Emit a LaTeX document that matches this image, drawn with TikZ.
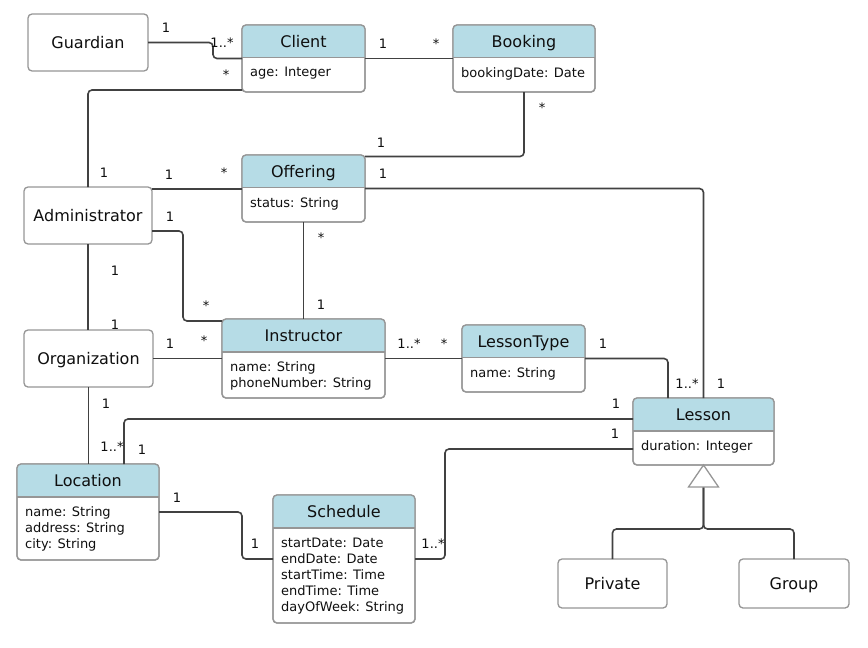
\documentclass[tikz,border=0pt]{standalone}
\usepackage{fontspec}
\setmainfont{DejaVu Sans}
\usetikzlibrary{calc}
\definecolor{hdr}{RGB}{182,220,230}
\definecolor{bord}{RGB}{150,150,150}
\definecolor{lnc}{RGB}{65,65,65}
\definecolor{txt}{RGB}{15,15,15}
\newcommand{\umlclass}[8]{%
  \node[classbox, minimum width={(#4-#2)*1pt}, minimum height={(#5-#3)*1pt}] (#1) at ({(#2+#4)/2},{(#3+#5)/2}) {};
  \begin{scope}
    \clip[rounded corners=4pt] (#2,#3) rectangle (#4,#5);
    \fill[hdr] (#2,#3) rectangle (#4,#6);
  \end{scope}
  \draw[draw=bord, line width=1.3pt] (#2,#6) -- (#4,#6);
  \draw[draw=bord, line width=1.3pt, rounded corners=4pt] (#2,#3) rectangle (#4,#5);
  \node[ctitle] (#1-t) at ({(#2+#4)/2},{(#3+#6)/2+5.8}) {#7};
  \node[cattr] (#1-a) at (#2+8,#6+9.5) {#8};
}
\begin{document}
\begin{tikzpicture}[x=1pt,y=-1pt,
  classbox/.style={draw=bord, line width=1.3pt, fill=white, rounded corners=4pt, inner sep=0pt, outer sep=0pt},
  plainbox/.style={classbox, font=\fontsize{16}{19}\selectfont, text=txt, text height=11.7pt, text depth=0pt},
  ctitle/.style={font=\fontsize{16}{19}\selectfont, text=txt, anchor=base, inner sep=0pt},
  cattr/.style={font=\fontsize{13}{16.1}\selectfont, text=txt, anchor=north west, align=left, inner sep=0pt},
  mult/.style={font=\fontsize{13}{16}\selectfont, text=txt, anchor=base, inner sep=0pt},
  conn/.style={draw=lnc, line width=1.6pt, rounded corners=4pt},
]
\useasboundingbox (0,0) rectangle (868,648);

% plain boxes
\node[plainbox, minimum width=120pt, minimum height=57pt] (guardian) at (88,42.5) {Guardian};
\node[plainbox, minimum width=128pt, minimum height=57pt] (admin) at (88,215.5) {Administrator};
\node[plainbox, minimum width=129pt, minimum height=57pt] (org) at (88.5,358.5) {Organization};
\node[plainbox, minimum width=109pt, minimum height=49pt] (private) at (612.5,583.5) {Private};
\node[plainbox, minimum width=110pt, minimum height=49pt] (group) at (794,583.5) {Group};

% classes
\umlclass{client}{242}{25}{365}{92}{57.5}{Client}{age: Integer}
\umlclass{booking}{453}{25}{595}{92}{57.5}{Booking}{bookingDate: Date}
\umlclass{offering}{242}{155}{365}{222}{187.5}{Offering}{status: String}
\umlclass{instructor}{222}{319}{385}{398}{352}{Instructor}{name: String\\phoneNumber: String}
\umlclass{lessontype}{462}{325}{585}{392}{357.5}{LessonType}{name: String}
\umlclass{lesson}{633}{398}{774}{465}{431}{Lesson}{duration: Integer}
\umlclass{location}{17}{464}{159}{560}{497}{Location}{name: String\\address: String\\city: String}
\umlclass{schedule}{273}{495}{415}{623}{528}{Schedule}{startDate: Date\\endDate: Date\\startTime: Time\\endTime: Time\\dayOfWeek: String}

% helper coordinates
\coordinate (adminT) at ([yshift=-2pt]admin.north east);
\coordinate (adminR) at ([yshift=13pt]admin.south east);
\coordinate (instrTL) at ([yshift=-2pt]instructor.north west);
\coordinate (gbase) at ([yshift=-22pt]lesson.south);

% connectors
\draw[conn] (guardian.east) -- (213,42.5) -- (213,58.5) -- (client.west);
\draw[conn] ([yshift=2pt]client.south west) -| (admin.north);
\draw[conn] (client.east) -- (booking.west);
\draw[conn] (booking.south) |- ([yshift=-1.5pt]offering.north east);
\draw[conn] (adminT) -- (adminT -| offering.west);
\draw[conn] (offering.east) -| (lesson.north);
\draw[conn] (adminR) -- (183,231) |- (instrTL);
\draw[conn] (offering.south) -- (instructor.north);
\draw[conn] (admin.south) -- (admin.south |- org.north);
\draw[conn] (org.east) -- (instructor.west);
\draw[conn] (instructor.east) -- (lessontype.west);
\draw[conn] (lessontype.east) -| ([xshift=-35.5pt]lesson.north);
\draw[conn] (org.south) -- (org.south |- location.north);
\draw[conn] ([xshift=36pt]location.north) |- ([yshift=-21pt]lesson.north west);
\draw[conn] (location.east) -- (242,512) |- (schedule.west);
\draw[conn] (schedule.east) -- (445,559) |- ([yshift=-51pt]lesson.north west);
\draw[conn] (gbase) -- ++(0,42) -| (private.north);
\draw[conn] (gbase) -- ++(0,42) -| (group.north);
\draw[draw=bord, line width=1.3pt, fill=white] (lesson.south) -- ++(-15,22) -- ++(30,0) -- cycle;

% multiplicities
\node[mult] (m1) at (166,32) {1};
\node[mult] (m2) at (222,47) {1..*};
\node[mult] (m3) at (226,79.5) {*};
\node[mult] (m4) at (104,177) {1};
\node[mult] (m5) at (383,48) {1};
\node[mult] (m6) at (436,48.5) {*};
\node[mult] (m7) at (542,112.5) {*};
\node[mult] (m8) at (381,147) {1};
\node[mult] (m9) at (169,179) {1};
\node[mult] (m10) at (224,177.5) {*};
\node[mult] (m11) at (383,178) {1};
\node[mult] (m12) at (721,388) {1};
\node[mult] (m13) at (170,221) {1};
\node[mult] (m14) at (206,310.5) {*};
\node[mult] (m15) at (321,242.5) {*};
\node[mult] (m16) at (321,309) {1};
\node[mult] (m17) at (115,275) {1};
\node[mult] (m18) at (115,329) {1};
\node[mult] (m19) at (170,348) {1};
\node[mult] (m20) at (204,345.5) {*};
\node[mult] (m21) at (409,348) {1..*};
\node[mult] (m22) at (444,348.5) {*};
\node[mult] (m23) at (603,348) {1};
\node[mult] (m24) at (687,388) {1..*};
\node[mult] (m25) at (106,408) {1};
\node[mult] (m26) at (112,451) {1..*};
\node[mult] (m27) at (142,454) {1};
\node[mult] (m28) at (616,408) {1};
\node[mult] (m29) at (615,438) {1};
\node[mult] (m30) at (177,502) {1};
\node[mult] (m31) at (255,548) {1};
\node[mult] (m32) at (433,548) {1..*};
\end{tikzpicture}
\end{document}
